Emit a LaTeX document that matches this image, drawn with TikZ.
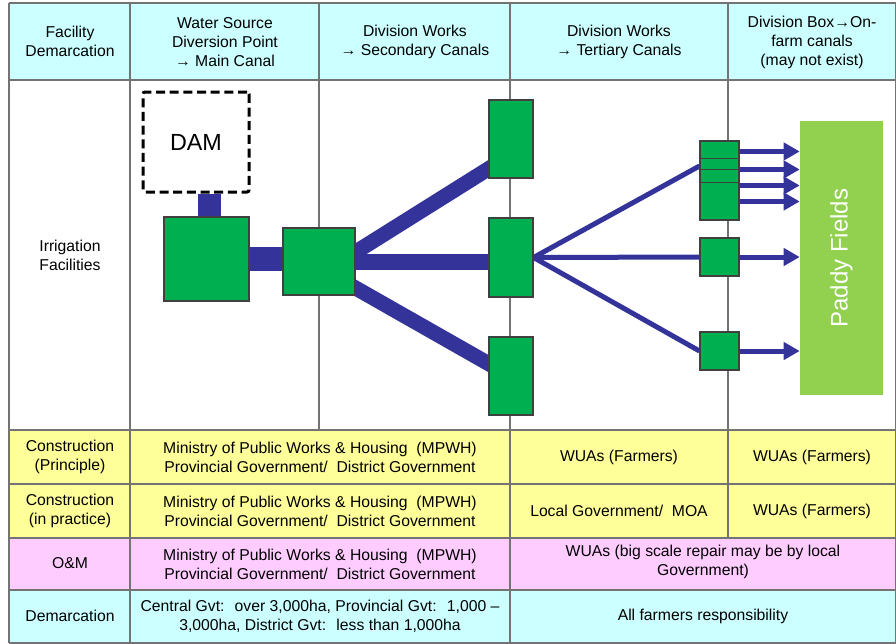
\documentclass[tikz,border=0pt]{standalone}
\usepackage{fontspec}
\setmainfont{Liberation Sans}
\usetikzlibrary{arrows.meta,calc}
\definecolor{hdrfill}{RGB}{204,255,255}
\definecolor{bldfill}{RGB}{255,255,153}
\definecolor{omfill}{RGB}{255,204,255}
\definecolor{canal}{RGB}{51,51,153}
\definecolor{works}{RGB}{0,176,80}
\definecolor{paddy}{RGB}{146,208,80}
\definecolor{gridline}{RGB}{115,115,115}
\pgfdeclarelayer{table}
\pgfdeclarelayer{water}
\pgfsetlayers{table,water,main}

\begin{document}
\begin{tikzpicture}[
  x=0.75pt, y=-0.75pt,
  txt/.style={font=\fontsize{11.8}{14.25}\selectfont, align=center, inner sep=0pt},
  wbox/.style={draw=black!75, fill=works, line width=0.8pt, inner sep=0pt},
  canal/.style={draw=canal, line cap=butt},
  feed/.style={draw=canal, line width=3.75pt, -{Triangle[length=12pt,width=12.75pt]}},
  rule/.style={draw=gridline, line width=1pt}
]
\useasboundingbox (0,0) rectangle (896,643);

% table background and rules
\begin{pgfonlayer}{table}
  \fill[white] (0,0) rectangle (896,643);
  \fill[hdrfill] (9,3) rectangle (896,80);
  \fill[bldfill] (9,430) rectangle (896,538);
  \fill[omfill] (9,538) rectangle (896,590);
  \fill[hdrfill] (9,590) rectangle (896,643);
  \draw[rule] (9,3) -- (896,3);
  \foreach \y in {80,430,484,538,590,643}
    \draw[rule] (9,\y) -- (896,\y);
  \draw[rule] (9,3) -- (9,643);
  \draw[rule] (130,3) -- (130,643);
  \draw[rule] (319,3) -- (319,430);
  \draw[rule] (510,3) -- (510,643);
  \draw[rule] (728,3) -- (728,538);
  \draw[rule] (896,3) -- (896,643);
\end{pgfonlayer}

% header row
\node[txt] (hfac) at (70,41) {Facility\\Demarcation};
\node[txt] (hsrc) at (225,42) {Water Source\\Diversion Point\\→ Main Canal};
\node[txt] (hsec) at (415,42) {Division Works\\→ Secondary Canals};
\node[txt] (hter) at (619,42) {Division Works\\→ Tertiary Canals};
\node[txt] (hfarm) at (812,42) {Division Box→On-\\farm canals\\(may not exist)};

% row labels
\node[txt] (lirr) at (70,255) {Irrigation\\Facilities};
\node[txt] (lcp) at (70,457) {Construction\\(Principle)};
\node[txt] (lci) at (70,511) {Construction\\(in practice)};
\node[txt] (lom) at (70,563) {O\&M};
\node[txt] (ldem) at (70,616) {Demarcation};

% who does what
\node[txt] (cp1) at (320,457) {Ministry of Public Works \& Housing~~(MPWH)\\Provincial Government/~ District Government};
\node[txt] (cp2) at (619,457) {WUAs (Farmers)};
\node[txt] (cp3) at (812,457) {WUAs (Farmers)};
\node[txt] (ci1) at (320,511) {Ministry of Public Works \& Housing~~(MPWH)\\Provincial Government/~ District Government};
\node[txt] (ci2) at (619,511) {Local Government/~ MOA};
\node[txt] (ci3) at (812,511) {WUAs (Farmers)};
\node[txt] (om1) at (320,564) {Ministry of Public Works \& Housing~~(MPWH)\\Provincial Government/~ District Government};
\node[txt] (om2) at (703,562) {WUAs (big scale repair may be by local\\Government)};
\node[txt] (dm1) at (320,616) {Central Gvt:~ over 3,000ha, Provincial Gvt:~ 1,000 –\\3,000ha, District Gvt:~ less than 1,000ha};
\node[txt] (dm2) at (703,616) {All farmers responsibility};

% facilities
\node[draw=black, line width=2.25pt, dash pattern=on 6.75pt off 3.5pt, rounded corners=1.5pt,
      fill=white, minimum width=79.5pt, minimum height=75pt,
      font=\fontsize{17.5}{17.5}\selectfont] (dam) at (196,142) {\raisebox{-2pt}{DAM}\hspace{4pt}};
\node[wbox, minimum width=63.75pt, minimum height=63pt] (intake) at (206.5,259) {};
\node[wbox, minimum width=54pt, minimum height=50.25pt] (main) at (319,261.5) {};
\node[wbox, minimum width=33pt, minimum height=58.5pt] (divA) at (511,139) {};
\node[wbox, minimum width=33pt, minimum height=59.25pt] (divB) at (511,257.5) {};
\node[wbox, minimum width=33pt, minimum height=58.5pt] (divC) at (511,376) {};
\node[wbox, minimum width=29.25pt, minimum height=59.25pt] (terA) at (719.5,180.5) {};
\node[wbox, minimum width=29.25pt, minimum height=28.5pt] (terB) at (719.5,257) {};
\node[wbox, minimum width=29.25pt, minimum height=28.5pt] (terC) at (719.5,351) {};
\foreach \dy in {18,29,42}
  \draw[black!75, line width=0.8pt] ($(terA.north west)+(0,\dy)$) -- ($(terA.north east)+(0,\dy)$);
\node[fill=paddy, minimum width=62.25pt, minimum height=205.5pt, text=white,
      font=\fontsize{18}{18}\selectfont] (paddy) at (841.5,258) {\rotatebox{90}{Paddy Fields}};

% canals
\begin{pgfonlayer}{water}
  \coordinate (sluice) at ($(intake.north)+(3,0)$);
  \draw[canal, line width=17.25pt] (sluice) -- (sluice |- dam.south);
  \draw[canal, line width=18pt] (intake.east) -- (intake.east -| main.west);
  \draw[canal, line width=11.25pt] ($(main.east)+(-15,0)$) -- ($(divA.west)+(6,26)$);
  \draw[canal, line width=12pt] (main.east) -- (main.east -| divB.west);
  \draw[canal, line width=11.25pt] ($(main.east)+(-15,18)$) -- ($(divC.west)+(6,-9)$);
  \draw[canal, line width=3.75pt] (divB.east) -- ($(terA.west)+(0,-14.5)$);
  \draw[canal, line width=3.75pt] (divB.east) -- (terB.west);
  \draw[canal, line width=3.75pt] (divB.east) -- (terC.west);
\end{pgfonlayer}

% on-farm feeds
\foreach \dy in {11,29,45,61} {
  \coordinate (tap) at ($(terA.north east)+(0,\dy)$);
  \draw[feed] (tap) -- (tap -| paddy.west);
}
\draw[feed] (terB.east) -- (terB.east -| paddy.west);
\draw[feed] (terC.east) -- (terC.east -| paddy.west);
\end{tikzpicture}
\end{document}
